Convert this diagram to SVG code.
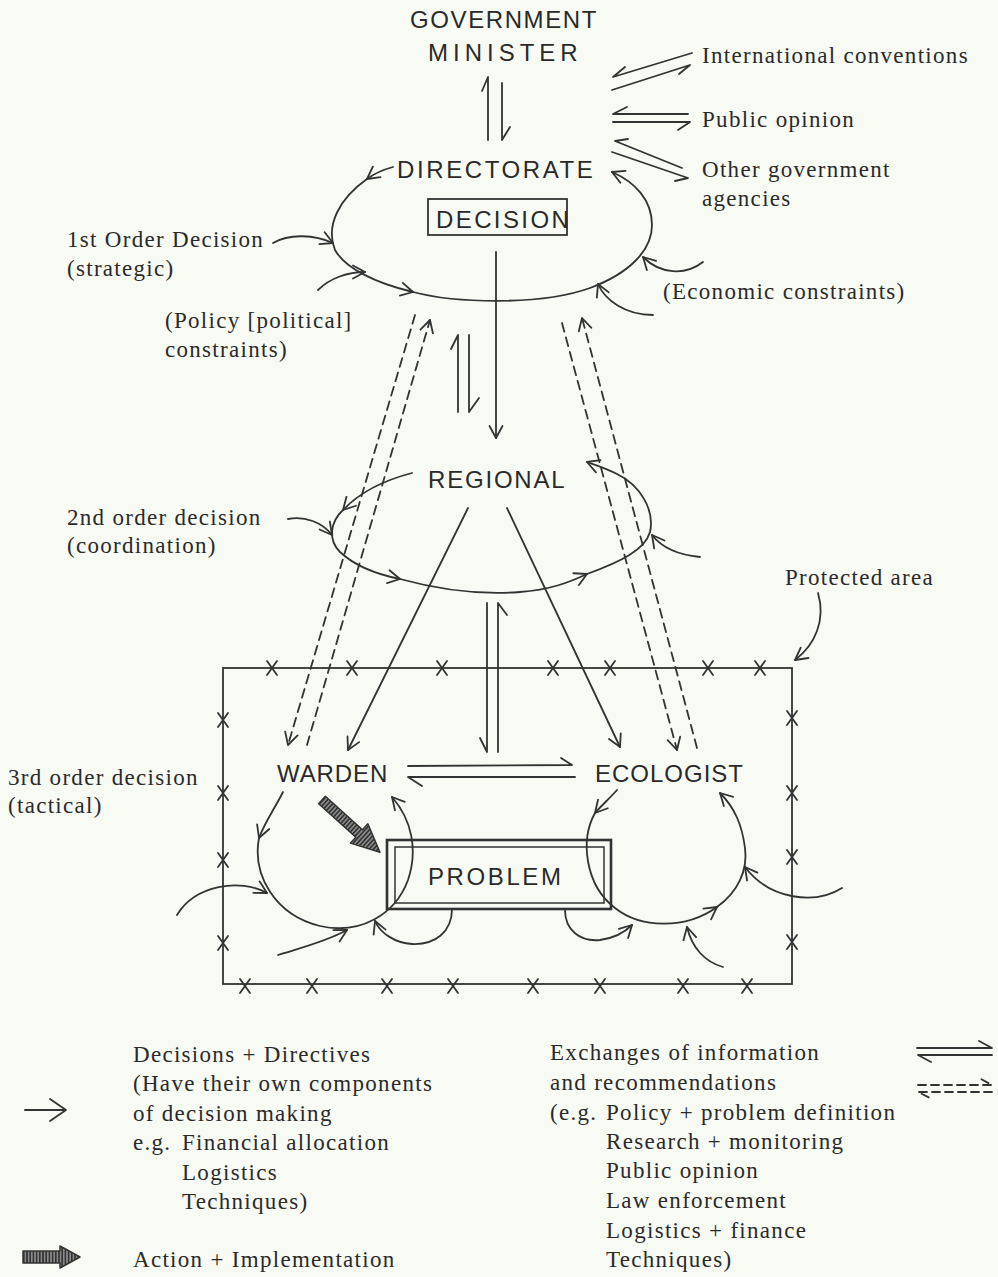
<svg xmlns="http://www.w3.org/2000/svg" width="998" height="1277" viewBox="0 0 998 1277">
<style>
.ln{stroke:#333;stroke-width:1.8;fill:none;stroke-linecap:round;stroke-linejoin:round}
.ds{stroke-dasharray:9 6}
.bx{stroke:#333;fill:none}
.cap{font-family:"Liberation Sans",Arial,sans-serif;font-size:24px;fill:#2a2a2a}
.t{font-family:"Liberation Serif","Times New Roman",serif;font-size:23px;letter-spacing:1.3px;fill:#2a2a2a}
.ar{stroke:#333;stroke-width:1.5;stroke-linejoin:round}
</style>
<defs>
<marker id="a" viewBox="-13 -8 15 16" refX="0" refY="0" markerWidth="15" markerHeight="16" markerUnits="userSpaceOnUse" orient="auto" overflow="visible">
<path d="M-12,-6.5 L0,0 L-12,6.5" fill="none" stroke="#333" stroke-width="1.8" stroke-linecap="round" stroke-linejoin="round"/>
</marker>
<pattern id="hatch" patternUnits="userSpaceOnUse" width="3.2" height="3.2">
<rect width="3.2" height="3.2" fill="#8a8a8a"/>
<line x1="0.8" y1="0" x2="0.8" y2="3.2" stroke="#2e2e2e" stroke-width="1.5"/>
</pattern>
<path id="x" d="M-5,-7 L5,7 M5,-7 L-5,7" fill="none" stroke="#333" stroke-width="1.8" stroke-linecap="round"/>
</defs>
<rect width="998" height="1277" fill="#f8faf4"/>

<g id="minister">
<text class="cap" x="410" y="28" letter-spacing="1.6">GOVERNMENT</text>
<text class="cap" x="428" y="61" letter-spacing="5">MINISTER</text>
</g>

<g id="directorate">
<text class="cap" x="397" y="178" letter-spacing="2.6">DIRECTORATE</text>
<rect class="bx" x="428" y="199" width="139" height="36" stroke-width="1.8"/>
<text class="cap" x="436" y="228" font-size="19" letter-spacing="2.4">DECISION</text>
</g>

<g id="regional">
<text class="cap" x="428" y="488" letter-spacing="1.8">REGIONAL</text>
</g>

<g id="warden">
<text class="cap" x="277" y="782" letter-spacing="0.9">WARDEN</text>
</g>

<g id="ecologist">
<text class="cap" x="595" y="782" letter-spacing="1">ECOLOGIST</text>
</g>

<g id="problem">
<rect class="bx" x="387" y="840" width="224" height="69" stroke-width="2.6"/>
<rect class="bx" x="395" y="847" width="209" height="56" stroke-width="1.5"/>
<text class="cap" x="428" y="885" letter-spacing="2.6">PROBLEM</text>
</g>

<g id="protected-area">
<rect class="bx" x="223" y="668" width="569" height="316" stroke-width="1.8"/>
<use href="#x" x="272" y="668"/><use href="#x" x="352" y="668"/><use href="#x" x="442" y="668"/><use href="#x" x="553" y="668"/><use href="#x" x="610" y="668"/><use href="#x" x="708" y="668"/><use href="#x" x="760" y="668"/>
<use href="#x" x="223" y="720"/><use href="#x" x="223" y="793"/><use href="#x" x="223" y="860"/><use href="#x" x="223" y="943"/>
<use href="#x" x="792" y="718"/><use href="#x" x="792" y="793"/><use href="#x" x="792" y="857"/><use href="#x" x="792" y="942"/>
<use href="#x" x="245" y="986"/><use href="#x" x="312" y="986"/><use href="#x" x="387" y="986"/><use href="#x" x="453" y="986"/><use href="#x" x="533" y="986"/><use href="#x" x="600" y="986"/><use href="#x" x="683" y="986"/><use href="#x" x="747" y="986"/>
</g>

<g id="labels">
<text class="t" x="702" y="63">International conventions</text>
<text class="t" x="702" y="127">Public opinion</text>
<text class="t" x="702" y="177">Other government</text>
<text class="t" x="702" y="206">agencies</text>
<text class="t" x="67" y="247">1st Order Decision</text>
<text class="t" x="67" y="276">(strategic)</text>
<text class="t" x="663" y="299">(Economic constraints)</text>
<text class="t" x="165" y="328">(Policy [political]</text>
<text class="t" x="165" y="357">constraints)</text>
<text class="t" x="67" y="525">2nd order decision</text>
<text class="t" x="67" y="553">(coordination)</text>
<text class="t" x="785" y="585">Protected area</text>
<text class="t" x="8" y="785">3rd order decision</text>
<text class="t" x="8" y="813">(tactical)</text>
</g>

<g id="connectors">
<path class="ln" d="M488,140 L488,77 L482,91"/>
<path class="ln" d="M502,83 L502,140 L510,127"/>
<path class="ln" d="M692,53 L613,77 L625,67"/>
<path class="ln" d="M612,90 L690,65 L679,74"/>
<path class="ln" d="M688,114 L613,114 L627,107"/>
<path class="ln" d="M613,122 L690,122 L678,130"/>
<path class="ln" d="M682,168 L615,141 L628,139"/>
<path class="ln" d="M612,152 L688,178 L675,181"/>
<path class="ln" d="M393,167 Q378,171 367,179" marker-end="url(#a)"/>
<path class="ln" d="M367,179 C340,198 325,225 335,250 C345,268 375,283 413,292" marker-end="url(#a)"/>
<path class="ln" d="M413,292 C455,303 540,306 590,288 C630,273 652,250 652,225 C652,200 635,182 612,172" marker-end="url(#a)"/>
<path class="ln" d="M273,243 C290,233 315,235 333,243" marker-end="url(#a)"/>
<path class="ln" d="M318,290 C330,278 348,272 365,272" marker-end="url(#a)"/>
<path class="ln" d="M703,262 C685,276 660,274 643,257" marker-end="url(#a)"/>
<path class="ln" d="M653,315 C625,315 605,300 598,284" marker-end="url(#a)"/>
<path class="ln" d="M496,252 L496,438" marker-end="url(#a)"/>
<path class="ln" d="M458,412 L458,335 L451,349"/>
<path class="ln" d="M469,335 L469,412 L479,398"/>
<path class="ln ds" d="M415,315 L288,745" marker-end="url(#a)"/>
<path class="ln ds" d="M307,745 L430,320" marker-end="url(#a)"/>
<path class="ln ds" d="M562,323 L677,750" marker-end="url(#a)"/>
<path class="ln ds" d="M697,748 L582,318" marker-end="url(#a)"/>
<path class="ln" d="M412,473 C385,480 360,492 343,510" marker-end="url(#a)"/>
<path class="ln" d="M343,510 C330,522 328,540 340,552 C355,566 375,574 400,579" marker-end="url(#a)"/>
<path class="ln" d="M400,579 C440,590 480,595 520,592 C550,590 570,582 587,574" marker-end="url(#a)"/>
<path class="ln" d="M587,574 C620,562 645,550 650,532 C655,510 640,485 617,474 C605,468 595,465 587,462" marker-end="url(#a)"/>
<path class="ln" d="M288,519 C305,516 322,522 332,535" marker-end="url(#a)"/>
<path class="ln" d="M700,557 C680,555 662,548 652,535" marker-end="url(#a)"/>
<path class="ln" d="M468,508 L348,750" marker-end="url(#a)"/>
<path class="ln" d="M507,508 L620,747" marker-end="url(#a)"/>
<path class="ln" d="M487,603 L487,752 L480,738"/>
<path class="ln" d="M498,752 L498,603 L507,615"/>
<path class="ln" d="M408,766 L572,765 L561,758"/>
<path class="ln" d="M575,777 L408,777 L422,786"/>
<path class="ln" d="M283,792 C275,808 265,822 259,838" marker-end="url(#a)"/>
<path class="ln" d="M259,838 C252,875 275,915 320,926 C360,935 395,915 408,880 C418,850 412,820 392,797" marker-end="url(#a)"/>
<path class="ln" d="M177,915 C195,885 240,878 267,893" marker-end="url(#a)"/>
<path class="ln" d="M278,955 C300,948 325,942 347,930" marker-end="url(#a)"/>
<path class="ln" d="M452,909 C452,932 435,945 412,944 C395,943 380,933 375,921" marker-end="url(#a)"/>
<path class="ln" d="M617,790 C610,798 602,805 595,813" marker-end="url(#a)"/>
<path class="ln" d="M595,813 C580,840 585,885 615,908 C640,928 685,930 717,907" marker-end="url(#a)"/>
<path class="ln" d="M717,907 C738,892 748,870 745,848 C742,825 735,808 720,793" marker-end="url(#a)"/>
<path class="ln" d="M842,888 C815,905 770,900 745,867" marker-end="url(#a)"/>
<path class="ln" d="M723,967 C705,962 692,948 687,927" marker-end="url(#a)"/>
<path class="ln" d="M565,910 C565,930 580,942 600,940 C615,938 625,932 632,925" marker-end="url(#a)"/>
<path class="ln" d="M818,593 C826,620 815,645 795,660" marker-end="url(#a)"/>
<polygon class="ar" transform="translate(322,800) rotate(42)" points="0,-5 50,-5 50,-13 78,0 50,13 50,5 0,5" fill="url(#hatch)"/>
</g>

<g id="legend">
<path class="ln" d="M25,1110 L66,1110 M50,1099 L66,1110 L50,1121"/>
<text class="t" x="133" y="1062">Decisions + Directives</text>
<text class="t" x="133" y="1091">(Have their own components</text>
<text class="t" x="133" y="1121">of decision making</text>
<text class="t" x="133" y="1150">e.g. <tspan x="182">Financial allocation</tspan></text>
<text class="t" x="182" y="1180">Logistics</text>
<text class="t" x="182" y="1209">Techniques)</text>
<polygon class="ar" transform="translate(23,1257)" points="0,-6 37,-6 37,-11 57,0 37,11 37,6 0,6" fill="url(#hatch)"/>
<text class="t" x="133" y="1267">Action + Implementation</text>
<text class="t" x="550" y="1060">Exchanges of information</text>
<text class="t" x="550" y="1090">and recommendations</text>
<text class="t" x="550" y="1120">(e.g. <tspan x="606">Policy + problem definition</tspan></text>
<text class="t" x="606" y="1149">Research + monitoring</text>
<text class="t" x="606" y="1178">Public opinion</text>
<text class="t" x="606" y="1208">Law enforcement</text>
<text class="t" x="606" y="1238">Logistics + finance</text>
<text class="t" x="606" y="1267">Techniques)</text>
<path class="ln" d="M917,1048 L992,1048 L979,1041"/>
<path class="ln" d="M992,1055 L918,1055 L931,1062"/>
<path class="ln" d="M918,1085 L992,1085 L979,1078" stroke-dasharray="8 5"/>
<path class="ln" d="M992,1092 L918,1092 L932,1099" stroke-dasharray="8 5"/>
</g>
</svg>
